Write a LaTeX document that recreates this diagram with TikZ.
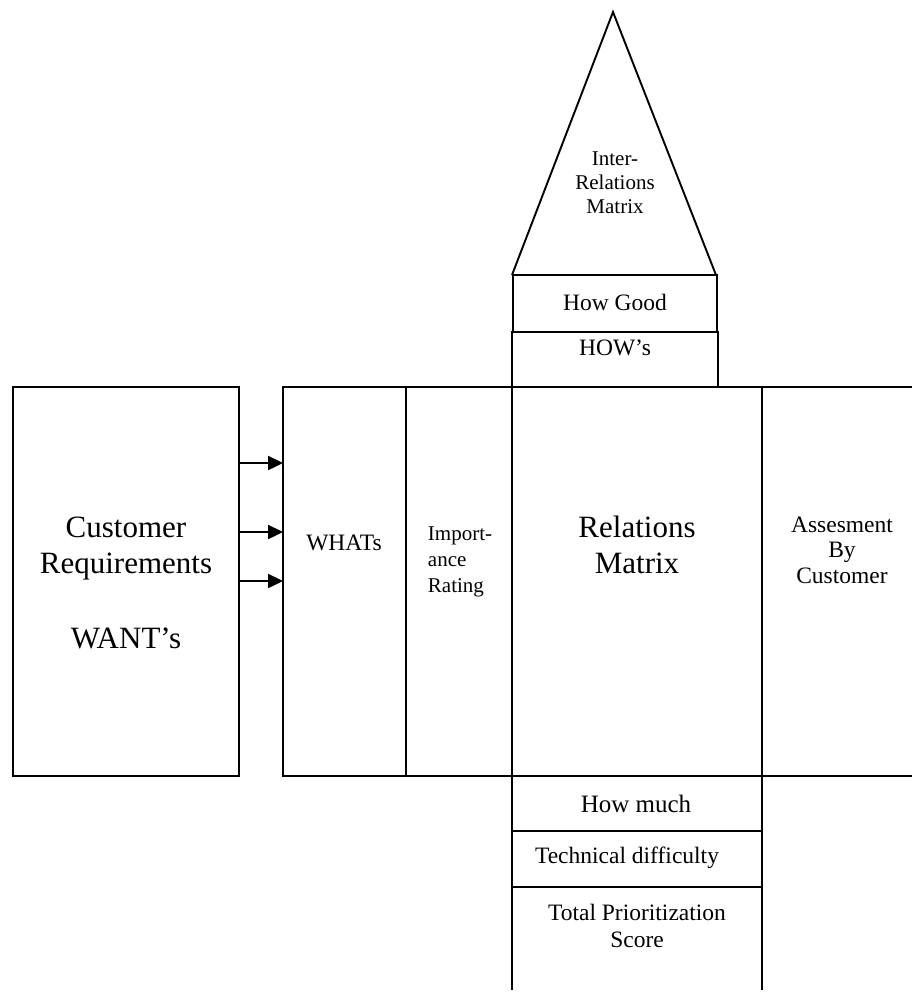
\documentclass[tikz,border=0pt]{standalone}
\usepackage{fontspec}
\setmainfont{Liberation Serif}
\usetikzlibrary{arrows.meta}
\begin{document}
\begin{tikzpicture}[x=1pt,y=-1pt,
  line width=1.9pt,
  box/.style={draw,rectangle,inner sep=0pt,outer sep=0pt,anchor=north west},
  lbl/.style={inner sep=0pt,anchor=base,align=center},
  arr/.style={line width=2.4pt,-{Triangle[length=15pt,width=14pt]}},
  big/.style={font=\fontsize{31}{36}\selectfont},
  mid/.style={font=\fontsize{23.5}{26}\selectfont},
  small/.style={font=\fontsize{21}{24}\selectfont}]
\useasboundingbox (0,0) rectangle (912,994);

% roof: triangle of the correlation matrix
\coordinate (apex) at (613,12);
\coordinate (roofL) at (512,275);
\coordinate (roofR) at (716,275);
\draw[line join=miter] (roofL) -- (apex) -- (roofR);

% upper stack
\node[box,minimum width=204pt,minimum height=57pt] (good) at (513,275) {};
\node[box,minimum width=206pt,minimum height=55pt] (hows) at (512,332) {};

% main row
\node[box,minimum width=226pt,minimum height=389pt] (cust) at (13,387) {};
\node[box,minimum width=123pt,minimum height=389pt] (whats) at (283,387) {};
\node[box,minimum width=106pt,minimum height=389pt] (imp) at (406,387) {};
\node[box,minimum width=250pt,minimum height=389pt] (rel) at (512,387) {};
\coordinate (asTop) at (912,387);
\coordinate (asBot) at (912,776);
\draw (rel.north east) -- (asTop);
\draw (rel.south east) -- (asBot);

% lower stack
\node[box,minimum width=250pt,minimum height=55pt] (much) at (512,776) {};
\node[box,minimum width=250pt,minimum height=56pt] (tech) at (512,831) {};
\coordinate (totL) at (512,990);
\coordinate (totR) at (762,990);
\draw (tech.south west) -- (totL);
\draw (tech.south east) -- (totR);

% arrows from the wants to the whats
\coordinate (y1) at (0,463);
\coordinate (y2) at (0,532);
\coordinate (y3) at (0,581);
\draw[arr] (cust.east |- y1) -- (whats.west |- y1);
\draw[arr] (cust.east |- y2) -- (whats.west |- y2);
\draw[arr] (cust.east |- y3) -- (whats.west |- y3);

% labels (multi-line nodes sit on the baseline of their last line)
\node[lbl,small] (tInter) at (615,213) {Inter-\\Relations\\Matrix};
\node[lbl,mid] (tGood) at (615,310) {How Good};
\node[lbl,mid] (tHows) at (615,355) {HOW’s};
\node[lbl,big] (tCust) at (126,648) {Customer\\Requirements\\[39pt]WANT’s};
\node[lbl,mid] (tWhats) at (344,550) {WHATs};
\node[lbl,anchor=base west,align=left,font=\fontsize{21}{26}\selectfont] (tImp) at (427,592) {Import-\\ance\\Rating};
\node[lbl,big] (tRel) at (637,573) {Relations\\Matrix};
\node[lbl,font=\fontsize{23.5}{25.5}\selectfont] (tAss) at (842,583) {Assesment\\By\\Customer};
\node[lbl,font=\fontsize{25}{28}\selectfont] (tMuch) at (636,812) {How much};
\node[lbl,mid] (tTech) at (627,863) {Technical difficulty};
\node[lbl,font=\fontsize{23.5}{27}\selectfont] (tTot) at (637,947) {Total Prioritization\\Score};
\end{tikzpicture}
\end{document}
